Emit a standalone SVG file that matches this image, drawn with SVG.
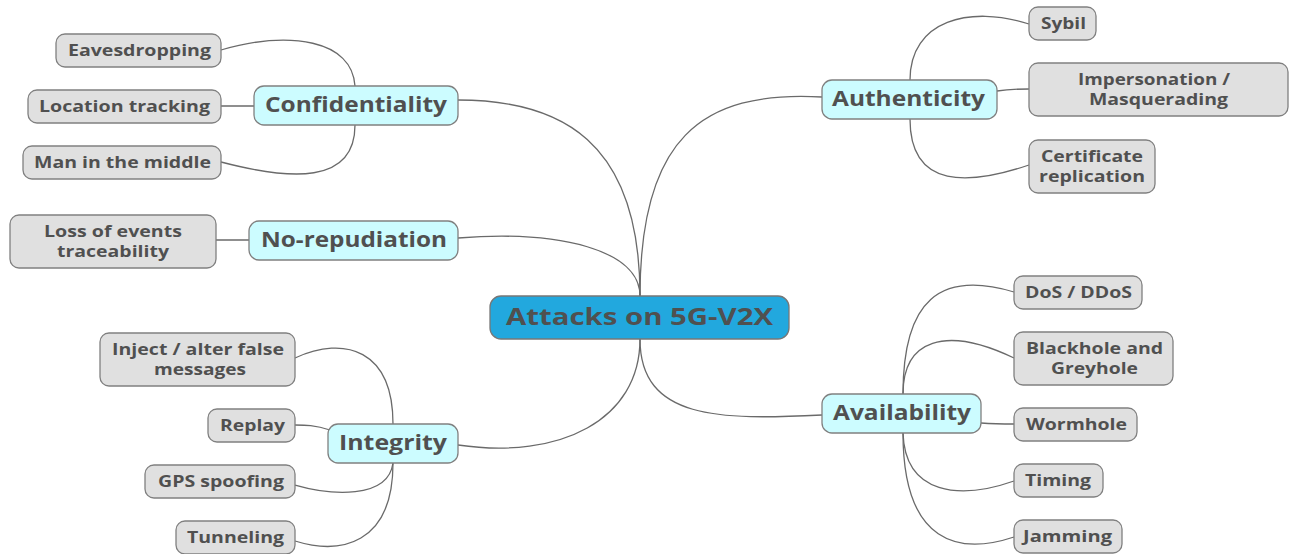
<svg xmlns="http://www.w3.org/2000/svg" width="1291" height="554" viewBox="0 0 1291 554">
<style>
text{font-family:"Open Sans","Noto Sans","DejaVu Sans",sans-serif;font-weight:bold;fill:#505050;text-anchor:middle;dominant-baseline:central}
.leaf rect{fill:#e0e0e0;stroke:#808080;stroke-width:1.3}
.leaf text{font-size:15.5px}
.topic rect{fill:#ccfcff;stroke:#808080;stroke-width:1.3}
.topic text{font-size:21px}
#connectors path{fill:none;stroke:#6a6a6a;stroke-width:1.3}
</style>
<rect width="1291" height="554" fill="#fff"/>
<g id="connectors">
<path d="M640,296 C640,140 560,100 458,100"/>
<path d="M640,296 C640,250 560,230 458,238"/>
<path d="M640,339 C640,420 560,460 458,445"/>
<path d="M640,296 C640,140 700,90 822,97"/>
<path d="M640,339 C640,420 720,420 822,415"/>
<path d="M355,86 C352,40 290,30 221,50"/>
<path d="M254,106 L221,106"/>
<path d="M355,125 C355,185 290,180 221,162"/>
<path d="M249,240 L216,240"/>
<path d="M393,424 C393,350 345,335 295,358"/>
<path d="M330,430 C315,425 305,425 295,425"/>
<path d="M393,463 C388,500 330,495 295,485"/>
<path d="M393,463 C393,545 340,555 295,541"/>
<path d="M910,80 C910,20 970,5 1029,24"/>
<path d="M997,91 C1010,89 1020,89 1029,89"/>
<path d="M910,119 C910,190 970,185 1029,165"/>
<path d="M903,394 C903,300 940,270 1014,292"/>
<path d="M903,394 C903,340 945,325 1014,358"/>
<path d="M981,423 C995,424 1005,424 1014,424"/>
<path d="M903,433 C905,495 960,500 1014,481"/>
<path d="M903,433 C903,545 960,555 1014,537"/>
</g>
<g id="center">
<rect x="490" y="296" width="299" height="43" rx="11" fill="#22a8de" stroke="#777" stroke-width="1.3"/>
<text x="639.5" y="316" style="font-size:22.5px" textLength="267" lengthAdjust="spacingAndGlyphs">Attacks on 5G-V2X</text>
</g>
<g id="confidentiality" class="topic"><rect x="254" y="86" width="204" height="39" rx="10"/><text x="356" y="104" textLength="182" lengthAdjust="spacingAndGlyphs">Confidentiality</text></g>
<g id="norepudiation" class="topic"><rect x="249" y="221" width="209" height="39" rx="10"/><text x="354" y="239" textLength="186" lengthAdjust="spacingAndGlyphs">No-repudiation</text></g>
<g id="integrity" class="topic"><rect x="328" y="424" width="130" height="39" rx="10"/><text x="393" y="442" textLength="108" lengthAdjust="spacingAndGlyphs">Integrity</text></g>
<g id="authenticity" class="topic"><rect x="822" y="80" width="175" height="39" rx="10"/><text x="908.5" y="98" textLength="153" lengthAdjust="spacingAndGlyphs">Authenticity</text></g>
<g id="availability" class="topic"><rect x="822" y="394" width="159" height="39" rx="10"/><text x="902" y="412" textLength="138" lengthAdjust="spacingAndGlyphs">Availability</text></g>
<g id="eavesdropping" class="leaf"><rect x="56" y="34" width="165" height="33" rx="9"/><text x="139.5" y="50" textLength="143" lengthAdjust="spacingAndGlyphs">Eavesdropping</text></g>
<g id="location" class="leaf"><rect x="28" y="90" width="193" height="33" rx="9"/><text x="124.5" y="106" textLength="171" lengthAdjust="spacingAndGlyphs">Location tracking</text></g>
<g id="mitm" class="leaf"><rect x="23" y="146" width="198" height="33" rx="9"/><text x="122.5" y="162" textLength="177" lengthAdjust="spacingAndGlyphs">Man in the middle</text></g>
<g id="loss" class="leaf"><rect x="10" y="215" width="206" height="53" rx="9"/><text x="113" y="231" textLength="138" lengthAdjust="spacingAndGlyphs">Loss of events</text><text x="113" y="251" textLength="112" lengthAdjust="spacingAndGlyphs">traceability</text></g>
<g id="inject" class="leaf"><rect x="100" y="333" width="195" height="53" rx="9"/><text x="198" y="349" textLength="172" lengthAdjust="spacingAndGlyphs">Inject / alter false</text><text x="200" y="369" textLength="92" lengthAdjust="spacingAndGlyphs">messages</text></g>
<g id="replay" class="leaf"><rect x="208" y="409" width="87" height="33" rx="9"/><text x="252.5" y="425" textLength="65" lengthAdjust="spacingAndGlyphs">Replay</text></g>
<g id="gps" class="leaf"><rect x="145" y="465" width="150" height="33" rx="9"/><text x="221" y="481" textLength="126" lengthAdjust="spacingAndGlyphs">GPS spoofing</text></g>
<g id="tunneling" class="leaf"><rect x="176" y="521" width="119" height="33" rx="9"/><text x="235.5" y="537" textLength="97" lengthAdjust="spacingAndGlyphs">Tunneling</text></g>
<g id="sybil" class="leaf"><rect x="1029" y="7" width="67" height="33" rx="9"/><text x="1063.5" y="23" textLength="45" lengthAdjust="spacingAndGlyphs">Sybil</text></g>
<g id="impersonation" class="leaf"><rect x="1029" y="63" width="259" height="53" rx="9"/><text x="1154" y="79" textLength="152" lengthAdjust="spacingAndGlyphs">Impersonation /</text><text x="1158.5" y="99" textLength="139" lengthAdjust="spacingAndGlyphs">Masquerading</text></g>
<g id="certificate" class="leaf"><rect x="1029" y="140" width="126" height="53" rx="9"/><text x="1092" y="156" textLength="102" lengthAdjust="spacingAndGlyphs">Certificate</text><text x="1092" y="176" textLength="106" lengthAdjust="spacingAndGlyphs">replication</text></g>
<g id="dos" class="leaf"><rect x="1014" y="276" width="128" height="33" rx="9"/><text x="1078.5" y="292" textLength="107" lengthAdjust="spacingAndGlyphs">DoS / DDoS</text></g>
<g id="blackhole" class="leaf"><rect x="1014" y="332" width="159" height="53" rx="9"/><text x="1094.5" y="348" textLength="137" lengthAdjust="spacingAndGlyphs">Blackhole and</text><text x="1094.5" y="368" textLength="87" lengthAdjust="spacingAndGlyphs">Greyhole</text></g>
<g id="wormhole" class="leaf"><rect x="1014" y="408" width="123" height="33" rx="9"/><text x="1076.5" y="424" textLength="101" lengthAdjust="spacingAndGlyphs">Wormhole</text></g>
<g id="timing" class="leaf"><rect x="1014" y="464" width="89" height="33" rx="9"/><text x="1058" y="480" textLength="66" lengthAdjust="spacingAndGlyphs">Timing</text></g>
<g id="jamming" class="leaf"><rect x="1014" y="520" width="108" height="33" rx="9"/><text x="1067.5" y="536" textLength="89" lengthAdjust="spacingAndGlyphs">Jamming</text></g>
</svg>
